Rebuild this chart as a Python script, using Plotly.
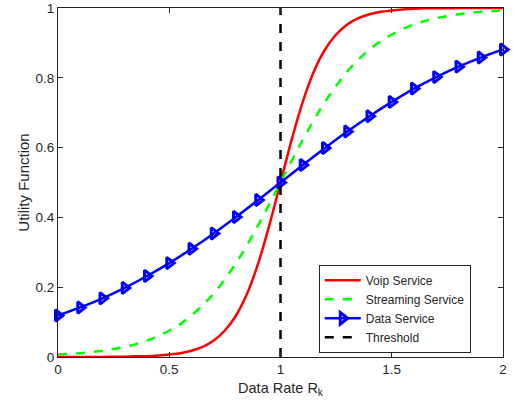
import plotly.graph_objects as go

# Data
x_fine = [round(i * 0.05, 2) for i in range(41)]
voip = [0.000, 0.000, 0.000, 0.000, 0.000, 0.001, 0.001, 0.002, 0.002, 0.004,
        0.007, 0.011, 0.018, 0.029, 0.047, 0.076, 0.119, 0.182, 0.269, 0.378,
        0.500, 0.622, 0.731, 0.818, 0.881, 0.924, 0.953, 0.971, 0.982, 0.989,
        0.993, 0.996, 0.998, 0.999, 0.999, 0.999, 1.000, 1.000, 1.000, 1.000, 1.000]
streaming = [0.007, 0.009, 0.011, 0.014, 0.018, 0.023, 0.029, 0.037, 0.047, 0.060,
             0.076, 0.095, 0.119, 0.148, 0.182, 0.223, 0.269, 0.321, 0.378, 0.438,
             0.500, 0.562, 0.622, 0.679, 0.731, 0.777, 0.818, 0.852, 0.881, 0.905,
             0.924, 0.940, 0.953, 0.963, 0.971, 0.977, 0.982, 0.986, 0.989, 0.991, 0.993]
x_data = [round(i * 0.1, 1) for i in range(21)]
data_service = [0.119, 0.142, 0.168, 0.198, 0.232, 0.269, 0.310, 0.354, 0.401, 0.450,
                0.500, 0.550, 0.599, 0.646, 0.690, 0.731, 0.769, 0.802, 0.832, 0.858, 0.881]
threshold_x = [1, 1]
threshold_y = [0, 1]
x_ticks = [0, 0.5, 1, 1.5, 2]
x_ticktext = ["0", "0.5", "1", "1.5", "2"]
y_ticks = [0, 0.2, 0.4, 0.6, 0.8, 1]
y_ticktext = ["0", "0.2", "0.4", "0.6", "0.8", "1"]

FONT = "Liberation Sans, Arial, sans-serif"
GREY = "#262626"

fig = go.Figure()
fig.add_trace(go.Scatter(x=x_fine, y=voip, mode="lines", name="Voip Service",
                         line=dict(color="#ff0000", width=2.5, shape="spline")))
fig.add_trace(go.Scatter(x=x_fine, y=streaming, mode="lines", name="Streaming Service",
                         line=dict(color="#00ff00", width=2.5, dash="dash", shape="spline")))
fig.add_trace(go.Scatter(x=x_data, y=data_service, mode="lines+markers", name="Data Service",
                         cliponaxis=False,
                         line=dict(color="#0000ff", width=2.5, shape="spline"),
                         marker=dict(symbol="triangle-right-open", size=10, color="#0000ff",
                                     line=dict(width=3, color="#0000ff"))))
fig.add_trace(go.Scatter(x=threshold_x, y=threshold_y, mode="lines", name="Threshold",
                         line=dict(color="#000000", width=2.5, dash="dash")))

axis_common = dict(showgrid=False, zeroline=False, showline=True, linecolor=GREY,
                   linewidth=1, mirror="ticks", ticks="inside", ticklen=5,
                   tickcolor=GREY, automargin=False, ticklabeloverflow="allow",
                   tickfont=dict(size=13.5, color=GREY, family=FONT))
fig.update_xaxes(range=[0, 2], tickvals=x_ticks, ticktext=x_ticktext,
                 title=dict(text="Data Rate R<sub>k</sub>", standoff=6,
                            font=dict(size=14.5, color=GREY, family=FONT)),
                 **axis_common)
fig.update_yaxes(range=[0, 1], tickvals=y_ticks, ticktext=y_ticktext,
                 title=dict(text="Utility Function", standoff=2,
                            font=dict(size=15, color=GREY, family=FONT)),
                 **axis_common)

fig.update_layout(
    width=513, height=407,
    margin=dict(l=58, r=10, t=8, b=50),
    plot_bgcolor="white", paper_bgcolor="white",
    font=dict(family=FONT, color=GREY),
    legend=dict(x=0.586, y=0.012, xanchor="left", yanchor="bottom",
                bgcolor="white", bordercolor=GREY, borderwidth=1,
                font=dict(size=12, color=GREY, family=FONT), tracegroupgap=0,
                itemwidth=36),
)

fig.write_html("out.html", config={"displayModeBar": False},
               post_script="document.body.style.margin='0';document.body.style.padding='0';")
